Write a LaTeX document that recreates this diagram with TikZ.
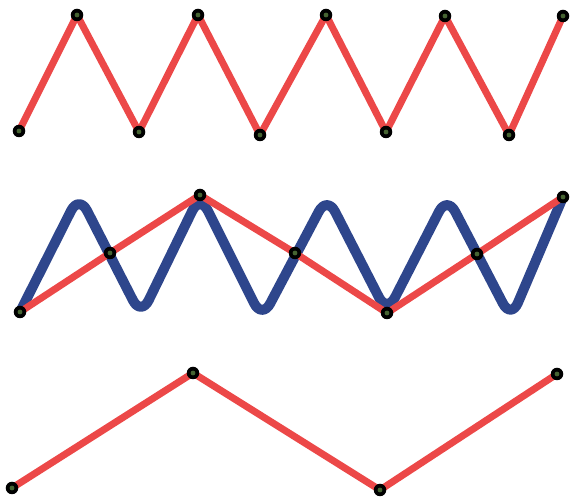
\documentclass[tikz,border=0pt]{standalone}
\usepackage{xcolor}
\usepackage{tikz}

\definecolor{linkred}{RGB}{236,72,72}
\definecolor{wavblue}{RGB}{46,70,140}
\definecolor{dotcore}{RGB}{70,100,50}

\begin{document}
\begin{tikzpicture}[x=0.01cm,y=-0.01cm,
  redline/.style={draw=linkred,line width=0.07cm,line join=round},
  blueline/.style={draw=wavblue,line width=0.1cm,line join=round,rounded corners=5pt},
  dot/.style={circle,fill=black,inner sep=0pt,minimum size=0.125cm,
    path picture={\fill[dotcore] (path picture bounding box.center) circle (2.4);}}]
  \useasboundingbox (0,0) rectangle (570,498);

  % top row: full zigzag
  \coordinate (t0) at (19,131);  \coordinate (t1) at (77,15);
  \coordinate (t2) at (139,132); \coordinate (t3) at (198,15);
  \coordinate (t4) at (260,135); \coordinate (t5) at (326,15);
  \coordinate (t6) at (386,132); \coordinate (t7) at (445,16);
  \coordinate (t8) at (509,135); \coordinate (t9) at (563,16);

  % middle row: same zigzag, coarser polyline on top
  \coordinate (b0) at (20,312);  \coordinate (b1) at (79,195);
  \coordinate (b2) at (141,316); \coordinate (b3) at (200,195);
  \coordinate (b4) at (262,319); \coordinate (b5) at (327,196);
  \coordinate (b6) at (387,313); \coordinate (b7) at (447,196);
  \coordinate (b8) at (511,319); \coordinate (b9) at (563,197);
  \coordinate (m1) at (110,253); \coordinate (m2) at (295,253);
  \coordinate (m3) at (477,254);

  % bottom row
  \coordinate (s0) at (12,488);  \coordinate (s1) at (193,373);
  \coordinate (s2) at (380,490); \coordinate (s3) at (557,374);

  \path[redline] (t0) -- (t1) -- (t2) -- (t3) -- (t4) -- (t5) -- (t6)
    -- (t7) -- (t8) -- (t9);
  \path[blueline] (b0) -- (b1) -- (b2) -- (b3) -- (b4) -- (b5) -- (b6)
    -- (b7) -- (b8) -- (b9);
  \path[redline] (b0) -- (m1) -- (b3) -- (m2) -- (b6) -- (m3) -- (b9);
  \path[redline] (s0) -- (s1) -- (s2) -- (s3);

  \foreach \p in {t0,t1,t2,t3,t4,t5,t6,t7,t8,t9,
                  b0,m1,b3,m2,b6,m3,b9,s0,s1,s2,s3}
    \node[dot] (d\p) at (\p) {};
\end{tikzpicture}
\end{document}
